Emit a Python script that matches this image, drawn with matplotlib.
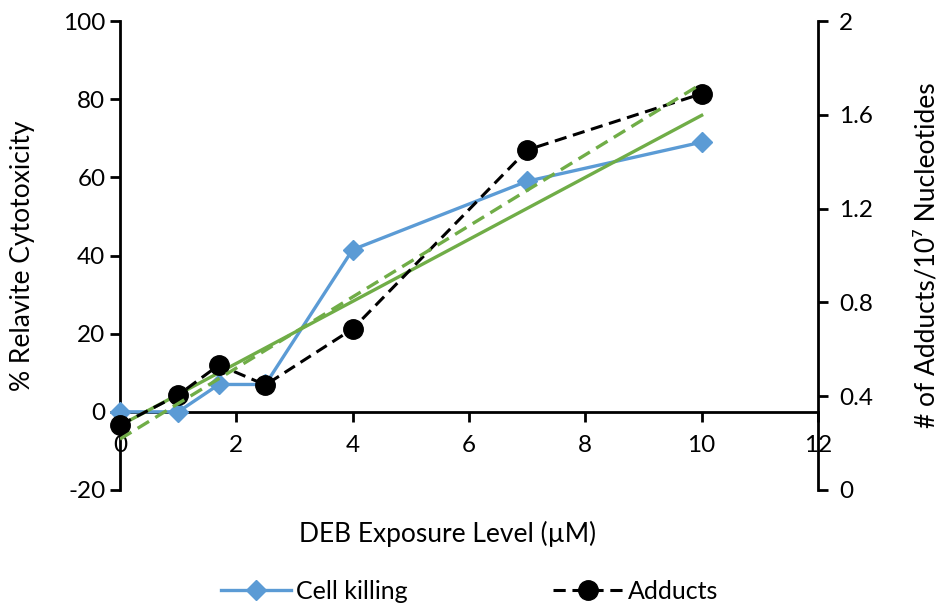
import matplotlib.pyplot as plt
import numpy as np

plt.rcParams['font.family'] = ['Lato', 'DejaVu Sans']
plt.rcParams['axes.unicode_minus'] = False

dose = [0, 1, 1.7, 2.5, 4, 7, 10]
cell_killing = [0, 0, 7, 7, 41.5, 59, 69]
adducts = [0.277, 0.405, 0.533, 0.448, 0.687, 1.45, 1.69]

blue = '#5B9BD5'
green = '#70AD47'
fs = 17.5
lfs = 19

fig = plt.figure(figsize=(9.39, 6.07), dpi=100)
ax = fig.add_axes([120 / 939, 1 - 490 / 607, 698 / 939, 469 / 607])
ax2 = ax.twinx()

# linear trendlines (Excel style)
xfit = np.array([0, 10])
k1 = np.polyfit(dose, cell_killing, 1)
k2 = np.polyfit(dose, adducts, 1)

l1, = ax.plot(dose, cell_killing, color=blue, lw=2.4, marker='D', ms=10,
              label='Cell killing', zorder=3, clip_on=False)
ax.plot(xfit, np.polyval(k1, xfit), color=green, lw=2.4, zorder=4)

l2, = ax2.plot(dose, adducts, color='black', lw=2.2, ls=(0, (4, 2.2)),
               marker='o', ms=14, label='Adducts', zorder=3, clip_on=False)
ax2.plot(xfit, np.polyval(k2, xfit), color=green, lw=2.4, ls=(0, (4, 2.2)), zorder=4)

ax.set_xlim(0, 12)
ax.set_ylim(-20, 100)
ax2.set_ylim(0, 2)
ax.set_xticks(range(0, 13, 2))
ax.set_yticks(range(-20, 101, 20))
ax2.set_yticks([0, 0.4, 0.8, 1.2, 1.6, 2])
ax2.set_yticklabels(['0', '0.4', '0.8', '1.2', '1.6', '2'])

for a in (ax, ax2):
    a.spines['top'].set_visible(False)
ax.spines['right'].set_visible(False)
ax2.spines['left'].set_visible(False)
ax2.spines['bottom'].set_visible(False)
ax.spines['bottom'].set_position(('data', 0))
for s in (ax.spines['left'], ax.spines['bottom'], ax2.spines['right']):
    s.set_linewidth(2)

ax.tick_params(axis='both', direction='out', length=7, width=2, labelsize=fs)
ax.tick_params(axis='x', pad=10)
ax2.tick_params(axis='y', direction='out', length=7, width=2, labelsize=fs, pad=8)

ax.set_ylabel('% Relavite Cytotoxicity', fontsize=lfs)
ax.yaxis.set_label_coords(-0.122, 0.5)
ax2.set_ylabel('# of Adducts/10⁷ Nucleotides', fontsize=lfs)
ax2.yaxis.set_label_coords(1.138, 0.5)
ax.set_xlabel('DEB Exposure Level (µM)', fontsize=lfs)
ax.xaxis.set_label_coords(0.47, -0.065)

fig.legend(handles=[l1, l2], loc='lower center', bbox_to_anchor=(0.5, -0.03),
           ncol=2, frameon=False, fontsize=18, handlelength=2.8,
           columnspacing=5.8, handletextpad=0.2)

fig.savefig('out.png', dpi=100)
